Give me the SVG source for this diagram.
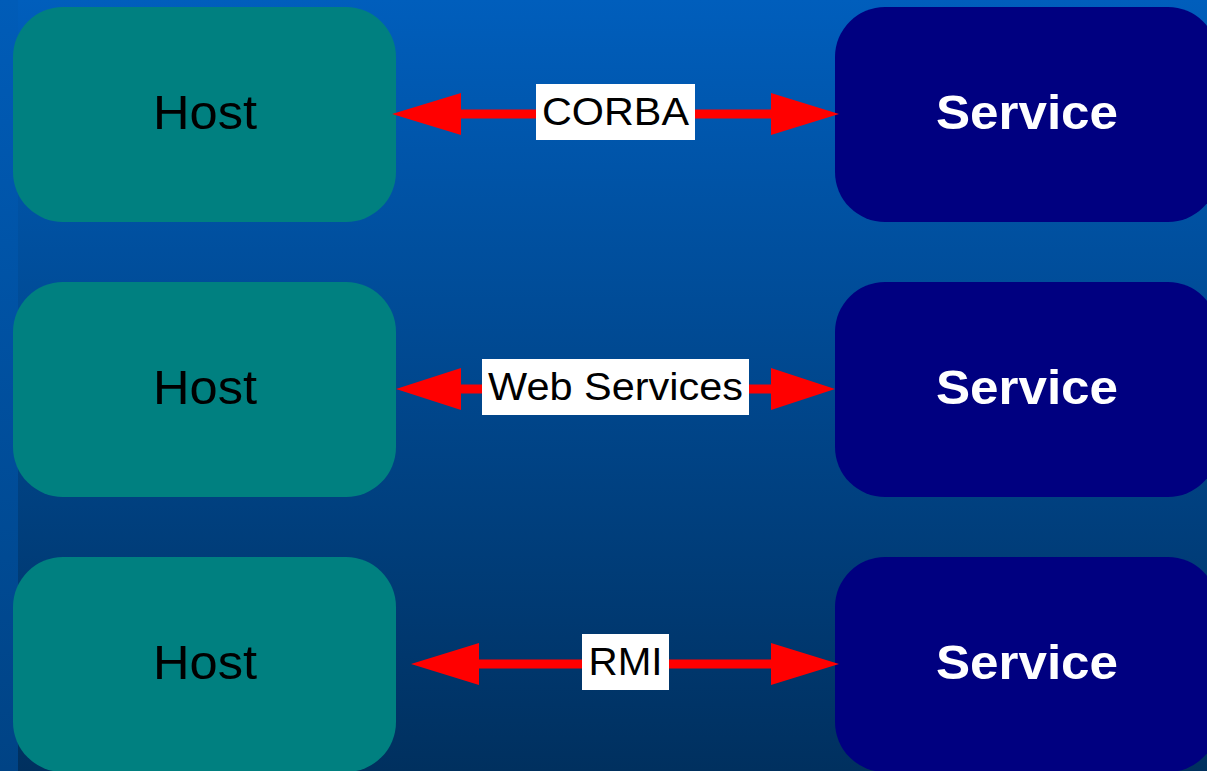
<svg xmlns="http://www.w3.org/2000/svg" width="1207" height="771" viewBox="0 0 1207 771">
<defs>
<linearGradient id="bg" x1="0" y1="0" x2="0" y2="1">
<stop offset="0" stop-color="#005EBC"/>
<stop offset="1" stop-color="#00305F"/>
</linearGradient>
<linearGradient id="strip" x1="0" y1="0" x2="0" y2="1">
<stop offset="0" stop-color="#005CB8"/>
<stop offset="1" stop-color="#004385"/>
</linearGradient>
<style>
.host{fill:#008080}
.svc{fill:#000080}
.ht{font-family:"Liberation Sans",Arial,sans-serif;font-size:49px;fill:#000;text-anchor:middle}
.st{font-family:"Liberation Sans",Arial,sans-serif;font-size:49px;font-weight:bold;fill:#fff;text-anchor:middle}
.lb{fill:#fff}
.lt{font-family:"Liberation Sans",Arial,sans-serif;font-size:38px;fill:#000;text-anchor:middle}
.arr{fill:#FF0000}
</style>
</defs>
<rect x="0" y="0" width="1207" height="771" fill="url(#bg)"/>
<rect x="0" y="0" width="18" height="771" fill="url(#strip)"/>

<g id="host1"><rect class="host" x="13" y="7" width="383" height="215" rx="50" ry="50"/><text class="ht" x="205" y="129" textLength="104" lengthAdjust="spacingAndGlyphs">Host</text></g>
<g id="host2"><rect class="host" x="13" y="282" width="383" height="215" rx="50" ry="50"/><text class="ht" x="205" y="404" textLength="104" lengthAdjust="spacingAndGlyphs">Host</text></g>
<g id="host3"><rect class="host" x="13" y="557" width="383" height="215" rx="50" ry="50"/><text class="ht" x="205" y="679" textLength="104" lengthAdjust="spacingAndGlyphs">Host</text></g>

<g id="service1"><rect class="svc" x="835" y="7" width="383" height="215" rx="50" ry="50"/><text class="st" x="1027" y="129" textLength="182" lengthAdjust="spacingAndGlyphs">Service</text></g>
<g id="service2"><rect class="svc" x="835" y="282" width="383" height="215" rx="50" ry="50"/><text class="st" x="1027" y="404" textLength="182" lengthAdjust="spacingAndGlyphs">Service</text></g>
<g id="service3"><rect class="svc" x="835" y="557" width="383" height="215" rx="50" ry="50"/><text class="st" x="1027" y="679" textLength="182" lengthAdjust="spacingAndGlyphs">Service</text></g>

<g id="connectors">
<g id="c1">
<polygon class="arr" points="392,114 461,93 461,109.5 771,109.5 771,93 839,114 771,135 771,118.5 461,118.5 461,135"/>
<rect class="lb" x="536" y="84" width="159" height="56"/>
<text class="lt" x="615.5" y="125" textLength="147" lengthAdjust="spacingAndGlyphs">CORBA</text>
</g>
<g id="c2">
<polygon class="arr" points="396,389 461,368 461,384.5 771,384.5 771,368 835,389 771,410 771,393.5 461,393.5 461,410"/>
<rect class="lb" x="482" y="359" width="267" height="56"/>
<text class="lt" x="615.5" y="400" textLength="255" lengthAdjust="spacingAndGlyphs">Web Services</text>
</g>
<g id="c3">
<polygon class="arr" points="411,664 479,643 479,659.5 771,659.5 771,643 839,664 771,685 771,668.5 479,668.5 479,685"/>
<rect class="lb" x="582" y="634" width="87" height="56"/>
<text class="lt" x="625.5" y="675" textLength="74" lengthAdjust="spacingAndGlyphs">RMI</text>
</g>
</g>
</svg>
